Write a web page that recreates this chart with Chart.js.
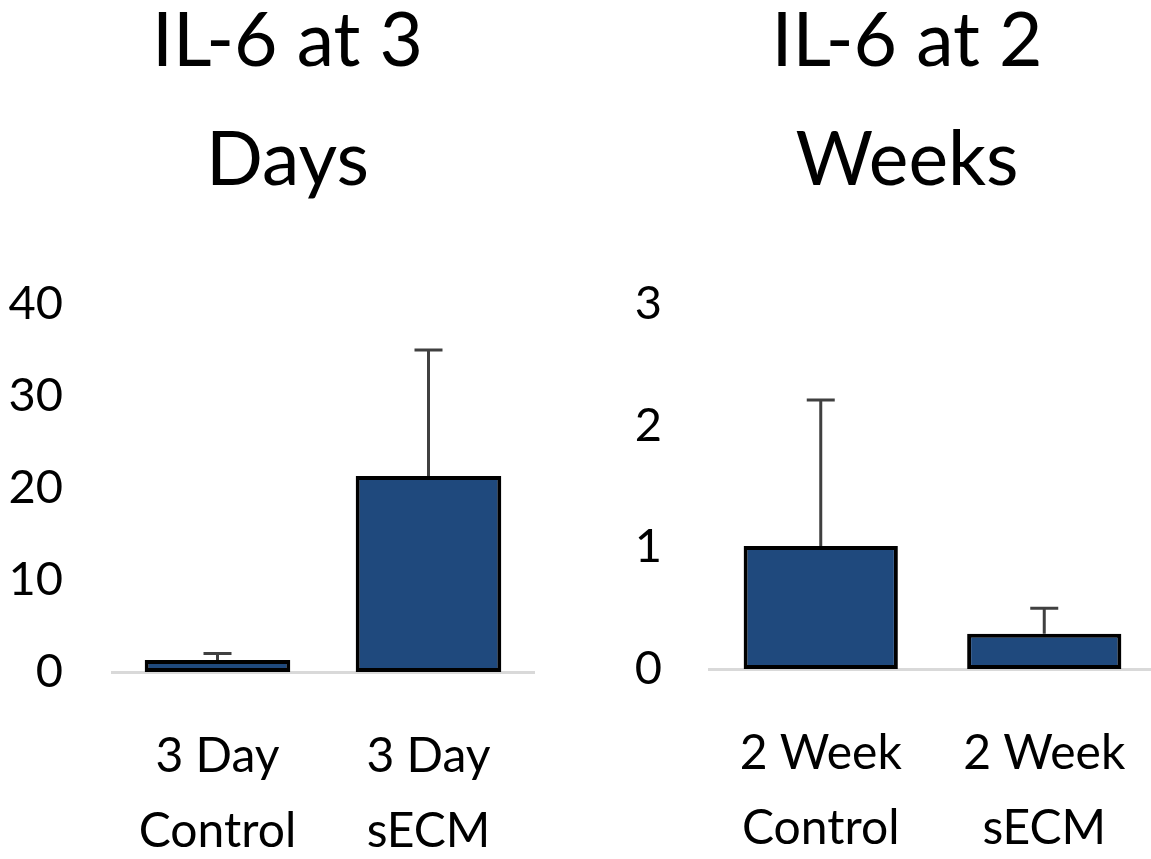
<!DOCTYPE html>
<html>
<head>
<meta charset="utf-8">
<script src="https://cdn.jsdelivr.net/npm/chart.js@4/dist/chart.umd.min.js"></script>
<style>
  html, body { margin: 0; padding: 0; background: #fff; overflow: hidden; }
  body { width: 1151px; height: 859px; position: relative; }
  .box { position: absolute; top: 0; height: 859px; }
  #left { left: 0; width: 575px; }
  #right { left: 575px; width: 664px; }
</style>
</head>
<body>
<div class="box" id="left"><canvas id="chart-3day"></canvas></div>
<div class="box" id="right"><canvas id="chart-2week"></canvas></div>
<script>
// 3 days panel
const dayLabels = [['3 Day', 'Control'], ['3 Day', 'sECM']];
const dayValues = [1.3, 21.3];
const dayErrors = [0.7, 13.7];
const dayTicks = [0, 10, 20, 30, 40];

// 2 weeks panel
const weekLabels = [['2 Week', 'Control'], ['2 Week', 'sECM']];
const weekValues = [1.01, 0.29];
const weekErrors = [1.2, 0.21];
const weekTicks = [0, 1, 2, 3];

const FONT = 'Lato';
const barColor = '#1f497d';

// only the upper half of the error bar shows above each bar
const errorBars = {
    id: 'errorBars',
    afterDatasetsDraw(chart, args, opts) {
        const ctx = chart.ctx;
        const meta = chart.getDatasetMeta(0);
        const yScale = chart.scales.y;
        ctx.save();
        ctx.strokeStyle = '#404040';
        ctx.lineWidth = 3;
        meta.data.forEach((bar, i) => {
            const v = chart.data.datasets[0].data[i];
            const top = yScale.getPixelForValue(v + opts.errors[i]);
            const base = yScale.getPixelForValue(v);
            ctx.beginPath();
            ctx.moveTo(bar.x, base);
            ctx.lineTo(bar.x, top);
            ctx.moveTo(bar.x - 14, top);
            ctx.lineTo(bar.x + 14, top);
            ctx.stroke();
        });
        ctx.restore();
    }
};

function makeChart(canvas, cfg) {
    return new Chart(canvas.getContext('2d'), {
        type: 'bar',
        data: {
            labels: cfg.labels,
            datasets: [{
                data: cfg.values,
                backgroundColor: barColor,
                borderColor: '#000000',
                borderWidth: 4,
                borderSkipped: false,
                barPercentage: 0.69,
                categoryPercentage: 1.0
            }]
        },
        options: {
            responsive: true,
            maintainAspectRatio: false,
            animation: false,
            layout: { padding: 0 },
            plugins: {
                legend: { display: false },
                tooltip: { enabled: false },
                title: {
                    display: true,
                    text: cfg.title,
                    color: '#000000',
                    font: { family: FONT, size: 75, weight: 'normal', lineHeight: '119px' },
                    padding: { top: -18, bottom: 84 }
                },
                errorBars: { errors: cfg.errors }
            },
            scales: {
                x: {
                    grid: { display: false, drawTicks: false },
                    border: { display: true, color: '#d9d9d9', width: 3 },
                    ticks: {
                        color: '#000000',
                        font: { family: FONT, size: 48, lineHeight: '75px' },
                        padding: 47,
                        maxRotation: 0,
                        autoSkip: false
                    },
                    afterFit(scale) { scale.height = cfg.xHeight; }
                },
                y: {
                    min: 0,
                    max: cfg.ticks[cfg.ticks.length - 1],
                    grid: { display: false, drawTicks: false },
                    border: { display: false },
                    afterBuildTicks(scale) { scale.ticks = cfg.ticks.map(v => ({ value: v })); },
                    ticks: {
                        color: '#000000',
                        font: { family: FONT, size: 47 },
                        padding: cfg.yPad
                    },
                    afterFit(scale) { scale.width = cfg.yWidth; }
                },
                // empty axis on the right, only keeps space so the title centres like the original
                spacer: {
                    type: 'linear',
                    position: 'right',
                    grid: { display: false, drawTicks: false },
                    border: { display: false },
                    ticks: { display: false },
                    afterFit(scale) { scale.width = cfg.rightGap; }
                }
            }
        },
        plugins: [errorBars]
    });
}

makeChart(document.querySelector('#chart-3day'), {
    labels: dayLabels, values: dayValues, errors: dayErrors, ticks: dayTicks,
    title: ['IL-6 at 3', 'Days'],
    yWidth: 112, yPad: 49, xHeight: 187, rightGap: 41
});

makeChart(document.querySelector('#chart-2week'), {
    labels: weekLabels, values: weekValues, errors: weekErrors, ticks: weekTicks,
    title: ['IL-6 at 2', 'Weeks'],
    yWidth: 134, yPad: 47, xHeight: 190, rightGap: 83
});
</script>
</body>
</html>
